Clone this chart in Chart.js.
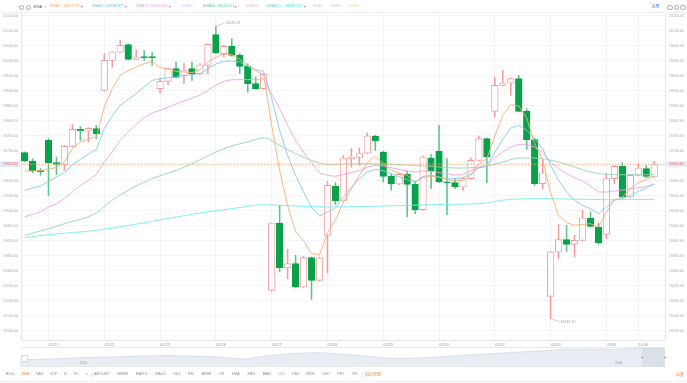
<!DOCTYPE html>
<html><head><meta charset="utf-8">
<script src="https://cdn.jsdelivr.net/npm/chart.js@4.4.1/dist/chart.umd.min.js"></script>
<style>
html,body{margin:0;padding:0;background:#fff;width:687px;height:383px;overflow:hidden;font-family:"Liberation Sans","Noto Sans CJK SC",Arial,sans-serif;}
#wrap{position:relative;width:687px;height:383px;}
canvas{position:absolute;left:0;}
#main{top:0;}
#nav{top:347px;}
.t{position:absolute;white-space:nowrap;line-height:1;transform:translateY(-50%);font-size:3.7px;}
.up{font-family:"DejaVu Sans",sans-serif;font-size:2.4px;color:#f04848;}
.ic{position:absolute;width:3.6px;height:3.6px;border:0.7px solid #a8a8a8;border-radius:50%;}
.bar{position:absolute;top:374.5px;transform:translateY(-50%);display:flex;font-size:3.5px;color:#8a8a8a;line-height:1;white-space:nowrap;}
.sep{position:absolute;width:0.6px;height:4px;background:#dcdcdc;top:372.5px;}
.hl{position:absolute;height:0.8px;background:#eceff3;}
</style></head>
<body><div id="wrap">
<canvas id="main" width="687" height="348"></canvas>
<canvas id="nav" width="687" height="20"></canvas>

<div class="hl" style="left:0;top:12px;width:687px;"></div>
<div class="ic" style="left:18.5px;top:4.7px"></div>
<div class="ic" style="left:25.5px;top:4.7px"></div>
<div class="t" style="left:33.5px;top:7px;color:#666;font-size:4px">EMA</div>
<div class="t" style="left:44.5px;top:7px;color:#aaa;font-size:3px;font-family:'DejaVu Sans'">▾</div>
<div class="t" style="left:50px;top:7px;color:#f7a865">EMA5:</div>
<div class="t" style="left:63px;top:7px;color:#f7a865">19617.735</div>
<div class="t up" style="left:81px;top:7px">▲</div>
<div class="t" style="left:92.5px;top:7px;color:#6ec0ee">EMA10:</div>
<div class="t" style="left:106.5px;top:7px;color:#6ec0ee">19598.871</div>
<div class="t up" style="left:125px;top:7px">▲</div>
<div class="t" style="left:136.5px;top:7px;color:#ee9ae6">EMA20:</div>
<div class="t" style="left:150.5px;top:7px;color:#ee9ae6">19590.565</div>
<div class="t up" style="left:169px;top:7px">▲</div>
<div class="t" style="left:181.5px;top:7px;color:#c8d3f3">EMA30:</div>
<div class="t" style="left:203px;top:7px;color:#64c98c">EMA60:</div>
<div class="t" style="left:217px;top:7px;color:#64c98c">19620.051</div>
<div class="t up" style="left:235px;top:7px">▲</div>
<div class="t" style="left:246.5px;top:7px;color:#f6bcbc">EMA90:</div>
<div class="t" style="left:266.5px;top:7px;color:#3fdede">EMA120:</div>
<div class="t" style="left:285px;top:7px;color:#3fdede">19535.355</div>
<div class="t up" style="left:304px;top:7px">▲</div>
<div class="t" style="left:313px;top:7px;color:#cfcfcf">EMA1</div>
<div class="t" style="left:331.5px;top:7px;color:#d6c6f4">EMA2</div>
<div class="t" style="left:349px;top:7px;color:#f4d8a2">EMA3</div>
<div class="t" style="left:651.5px;top:7px;color:#3d7ef0;font-size:4px">全屏</div>
<div class="ic" style="left:667px;top:4.7px"></div>
<div class="ic" style="left:673.5px;top:4.7px"></div>
<div class="ic" style="left:680px;top:4.7px"></div>

<div style="position:absolute;left:20px;top:347.3px;width:645px;height:19.4px;border-top:0.8px solid #e6e9ee;border-bottom:0.8px solid #e6e9ee;box-sizing:border-box;"></div>
<div style="position:absolute;left:642px;top:347.5px;width:23px;height:19px;background:rgba(190,200,212,0.35);"></div>
<div style="position:absolute;left:641px;top:356.8px;width:2px;height:0.8px;background:#8f98a3"></div>
<div style="position:absolute;left:664px;top:356.8px;width:2px;height:0.8px;background:#8f98a3"></div>
<div style="position:absolute;left:20.5px;top:355px;width:5.5px;height:4.5px;border:0.6px solid #d8dde4;background:#fff;"></div>
<div class="t" style="left:21.3px;top:357px;color:#8a8a8a;font-size:3px">···</div>
<div class="t" style="left:80px;top:364px;color:#999;font-size:3.3px">2025</div>
<div class="t" style="left:615px;top:364px;color:#999;font-size:3.3px">2026</div>

<div class="bar" style="left:6px;gap:6.7px"><span>BOLL</span><span style="color:#f08c4a">EMA</span><span>SAR</span><span>CDP</span><span>IC</span><span>KC</span><span>&gt;</span></div>
<div class="sep" style="left:90.5px"></div>
<div class="bar" style="left:94px;gap:7.75px"><span>AMOUNT</span><span>WMSR</span><span>MAVOL</span><span>MACD</span><span>KDJ</span><span>RSI</span><span>ARBR</span><span>CR</span><span>DMA</span><span>EMV</span><span>BIAS</span><span>CCI</span><span>DMI</span><span>MTM</span><span>OSC</span><span>PSY</span><span>VR</span></div>
<div class="sep" style="left:361.7px"></div>
<div class="t" style="left:365px;top:374.5px;color:#f08c4a;font-size:4px">指标管理</div>
<div class="t" style="left:676px;top:374.5px;color:#f08c4a;font-size:4px">设置</div>
<div class="hl" style="left:0;top:381px;width:687px;background:#f0f1f3"></div>
</div>

<script>
const candleOpen = [19693.4,19665.6,19633.4,19734.5,19660,19654.5,19714.5,19771.2,19765.6,19773.4,
19901.2,20001.2,20029,20053.4,20004.5,20013.4,20013.4,19906.7,19931.2,19973.4,
19951.2,19973.4,19956.7,19984.5,20086.7,20023.4,20047.9,20017.9,19981.2,19923.4,
19906.7,19234.5,19459,19310,19323.4,19245.6,19343.4,19267.9,19417.9,19582.3,
19532.3,19673.4,19677.9,19692.3,19749,19695.6,19614.5,19589,19621.2,19587.9,
19503.4,19675.6,19697.9,19595.6,19593.4,19579,19606.7,19667.9,19740,19831.2,
19917.9,19925.6,19940.1,19831.2,19736.7,19590.1,19214.5,19362.3,19403.4,19387.9,
19401.2,19475.6,19445.6,19421.2,19606.7,19647.9,19545.6,19617.9,19640.1,19612.3];
const candleHigh = [19696,19673.4,19640,19740,19679,19718,19787.9,19781,19776.8,19784.5,
20023.4,20031,20067.9,20055.6,20036.7,20033.4,20029,19942.3,19975.6,19995.6,
19990,19995.6,19990,20056.7,20115.01,20051.2,20073.4,20023.4,19990,19945.6,
19956.7,19459,19517.9,19371.2,19351.2,19347.9,19345.6,19345.6,19597.9,19593.4,
19684.5,19706.8,19709,19759,19751.2,19697.9,19623.4,19623.4,19631.2,19599,
19682.3,19686.7,19784.5,19673.4,19606.7,19609,19675.6,19749,19742.3,19945.6,
19967.9,19942.3,19951.2,19840.1,19742.3,19670.1,19364.5,19453.4,19451.2,19417.9,
19501.2,19495.6,19459,19623.4,19651.2,19660.1,19621.2,19656.7,19651.2,19664.5];
const candleLow = [19663,19626.8,19618,19551,19620,19634.5,19712,19734.5,19729,19740,
19899,19979,20026.8,20002.3,20003.4,20001.2,19984.5,19892.3,19920,19942.3,
19923.4,19934.5,19953.4,19956.7,20023.4,20012.3,20014.5,19956.7,19895.6,19904.5,
19904.5,19232,19295.6,19273.4,19242.3,19243.4,19204.5,19264.5,19293.4,19520.1,
19529,19645.6,19651.2,19690,19701.2,19595.6,19567.9,19586.8,19479,19490,
19501.2,19573.4,19593.4,19486.8,19573.4,19567.9,19604.5,19665.6,19593.4,19812.3,
19915.6,19884.5,19829,19704.5,19584.5,19573.4,19141.15,19340.1,19364.5,19345.6,
19399,19445.6,19387.9,19406.8,19590.1,19543.4,19543.4,19615.6,19610.1,19610.1];
const candleClose = [19665.6,19632.3,19629,19660,19654.5,19714.5,19771.2,19766.8,19774.5,19756.8,
20001.2,20029,20051.2,20004.5,20012.3,20009,20009,19931.2,19973.4,19944.5,
19969,19955.6,19985.6,20054.5,20026.8,20047.9,20017.9,19981.2,19923.4,19906.7,
19954.5,19459,19310,19323.4,19245.6,19343.4,19267.9,19342.3,19584.5,19532.3,
19675.6,19679,19692.3,19749,19732.3,19614.5,19589,19621.2,19587.9,19503.4,
19679,19632.3,19595.6,19592.3,19579,19606.7,19667.9,19740,19679,19917.9,
19925.6,19940.1,19831.2,19736.7,19590.1,19625.6,19362.3,19403.4,19387.9,19401.2,
19475.6,19447.9,19392.3,19606.7,19647.9,19545.6,19617.9,19642.3,19614.5,19654.82];

const ema5 = [19632.3,19632.3,19633.4,19637.9,19644.5,19662.3,19706.7,19729.0,19740.1,19745.6,
19845.6,19906.7,19951.2,19966.7,19979.0,19990.1,19997.9,19976.7,19973.4,19964.5,
19962.3,19960.1,19969.0,19995.6,20011.2,20022.3,20020.1,20004.5,19984.5,19966.7,
19953.4,19784.5,19634.5,19517.9,19431.2,19400.1,19357.9,19352.3,19426.7,19467.9,
19529.0,19573.4,19617.9,19660.1,19682.3,19656.7,19634.5,19625.6,19617.9,19595.6,
19610.1,19615.6,19611.2,19604.5,19599.0,19601.2,19617.9,19656.7,19673.4,19749.0,
19817.9,19853.4,19849.0,19809.0,19723.4,19670.1,19560.0,19484.5,19460.1,19451.2,
19454.5,19456.7,19445.6,19495.6,19534.5,19545.6,19573.4,19593.4,19604.5,19615.6];
const ema10 = [19567.9,19575.6,19582.3,19597.9,19612.3,19626.7,19653.4,19671.2,19687.9,19704.5,
19773.4,19815.6,19851.2,19871.2,19890.1,19912.3,19934.5,19940.1,19943.4,19945.6,
19950.1,19953.4,19956.7,19973.4,19989.0,19997.9,19999.0,19995.6,19981.2,19970.1,
19964.5,19875.6,19767.9,19684.5,19617.9,19562.3,19512.3,19482.3,19495.6,19509.0,
19545.6,19579.0,19606.7,19629.0,19637.9,19633.4,19623.4,19612.3,19603.4,19595.6,
19614.5,19617.9,19612.3,19606.7,19606.7,19610.1,19623.4,19642.3,19647.9,19695.6,
19737.9,19775.6,19784.5,19767.9,19740.1,19706.7,19651.2,19601.2,19562.3,19534.5,
19517.9,19506.7,19490.1,19512.3,19537.9,19540.1,19551.2,19564.5,19575.6,19590.1];
const ema20 = [19479.0,19487.9,19495.6,19512.3,19523.4,19540.1,19562.3,19584.5,19601.2,19621.2,
19662.3,19695.6,19734.5,19762.3,19787.9,19810.1,19825.6,19834.5,19845.6,19855.6,
19865.6,19875.6,19884.5,19901.2,19917.9,19931.2,19936.7,19936.7,19936.7,19937.9,
19937.9,19890.1,19840.1,19784.5,19734.5,19695.6,19660.1,19625.6,19617.9,19614.5,
19620.1,19626.7,19634.5,19644.5,19651.2,19649.0,19643.4,19637.9,19632.3,19629.0,
19632.3,19631.2,19626.7,19623.4,19619.0,19621.2,19634.5,19643.4,19651.2,19676.7,
19695.6,19712.3,19721.2,19721.2,19712.3,19693.4,19662.3,19640.1,19623.4,19610.1,
19597.9,19582.3,19562.3,19562.3,19565.6,19569.0,19573.4,19576.7,19581.2,19587.9];
const ema60Idx = [0,3,5,9,11,13,16,19,21,24,26,28,30,32,34,36,38,43,47,51,53,55,58,60,62,64,67,69,71,73,76,79];
const ema60Val = [19417.9,19440.1,19456.7,19492.3,19535,19567.9,19606.7,19634.5,19656.7,19695.6,19716,19729,19742.3,19718,19690,19668,19654.5,19656.7,19653.4,19647.9,19643.4,19642.3,19649,19662.3,19675.6,19675.6,19662.3,19645.6,19629,19621.2,19620.1,19620.1];
const ema120Idx = [0,3,9,16,22,26,30,32,38,45,51,53,57,61,65,70,74,79];
const ema120Val = [19410.1,19420.1,19434.5,19464.5,19492.3,19506.7,19520.1,19517.9,19512.3,19515.6,19520.1,19521.2,19523.4,19537.9,19540.1,19537.9,19536.7,19537.9];

const xTickIdx = [3,10,17,24,31,38,45,52,59,66,73,77];
const xTickLabels = ['01/21','01/22','01/23','01/26','01/27','01/28','01/29','01/30','02/02','02/03','02/04','14:30'];
const yTickValues = [20150,20100,20050,20000,19950,19900,19850,19800,19750,19700,19650,19600,19550,19500,19450,19400,19350,19300,19250,19200,19150,19100];
const lastPrice = 19654.82;
const overviewValues = [18005,18125,18275,18395,18500,18620,18650,18575,18455,18155,18650,18950,19100,18875,18575,18200,18305,18470,18755,18950,19175,19370,19625,19625,19625,19730,19760];

const FONT = '"Liberation Sans", Arial, sans-serif';
Chart.defaults.font.family = FONT;
const isUp = i => candleClose[i] >= candleOpen[i];
const UPC = '#f29c9c', DNC = '#08a24b', DNW = '#5cc486';

const marks = {
  id: 'marks',
  afterDatasetsDraw(chart) {
    const {ctx, chartArea: a, scales: {x, y}} = chart;
    ctx.save();
    const py = y.getPixelForValue(lastPrice);
    ctx.strokeStyle = '#f6a86c'; ctx.lineWidth = 0.9; ctx.setLineDash([1.5, 1.5]);
    ctx.beginPath(); ctx.moveTo(a.left, py); ctx.lineTo(a.right, py); ctx.stroke();
    ctx.setLineDash([]);
    ctx.fillStyle = '#e2ebfa';
    ctx.fillRect(0, py - 2.8, a.left - 1, 5.6);
    ctx.fillRect(a.right + 1.5, py - 2.8, chart.width - a.right - 1.5, 5.6);
    ctx.fillStyle = '#ef6262'; ctx.font = '3.6px ' + FONT; ctx.textBaseline = 'middle';
    ctx.textAlign = 'right'; ctx.fillText(lastPrice.toFixed(2), a.left - 3, py);
    ctx.textAlign = 'left'; ctx.fillText(lastPrice.toFixed(2), a.right + 4, py);
    // high / low annotations
    let hi = 0, lo = 0;
    candleHigh.forEach((v, i) => { if (v > candleHigh[hi]) hi = i; });
    candleLow.forEach((v, i) => { if (v < candleLow[lo]) lo = i; });
    ctx.strokeStyle = '#b5b5b5'; ctx.lineWidth = 0.6; ctx.fillStyle = '#9a9a9a';
    const hx = x.getPixelForValue(hi), hy = y.getPixelForValue(candleHigh[hi]);
    ctx.beginPath(); ctx.moveTo(hx, hy); ctx.lineTo(hx + 9, hy - 3.4); ctx.stroke();
    ctx.fillText(candleHigh[hi].toFixed(2), hx + 10, hy - 3.4);
    const lx = x.getPixelForValue(lo), ly = y.getPixelForValue(candleLow[lo]);
    ctx.beginPath(); ctx.moveTo(lx, ly); ctx.lineTo(lx + 9, ly + 3.4); ctx.stroke();
    ctx.fillText(candleLow[lo].toFixed(2), lx + 10, ly + 3.6);
    ctx.restore();
  }
};

const lineDs = (label, data, color, extra) => Object.assign({
  type: 'line', label, data, borderColor: color, borderWidth: 0.9, pointRadius: 0,
  tension: 0, order: 0, yAxisID: 'y'
}, extra || {});

const yAxisBase = {
  type: 'linear', min: 19069, max: 20159,
  afterBuildTicks: s => { s.ticks = yTickValues.map(v => ({value: v})); },
  ticks: {
    color: '#a9a9a9', font: {size: 3.6},
    callback: v => Math.abs(v - lastPrice) < 25 ? '' : Number(v).toFixed(2)
  }
};

new Chart(document.getElementById('main'), {
  type: 'bar',
  data: {
    datasets: [
      lineDs('EMA5', ema5.map((v, i) => ({x: i, y: v})), '#f8ad72'),
      lineDs('EMA10', ema10.map((v, i) => ({x: i, y: v})), '#83c9f0'),
      lineDs('EMA20', ema20.map((v, i) => ({x: i, y: v})), '#f1a2ea'),
      lineDs('EMA60', ema60Idx.map((v, i) => ({x: v, y: ema60Val[i]})), '#93d7ad', {cubicInterpolationMode: 'monotone'}),
      lineDs('EMA120', ema120Idx.map((v, i) => ({x: v, y: ema120Val[i]})), '#74eeee', {cubicInterpolationMode: 'monotone'}),
      {
        type: 'bar', label: 'body', yAxisID: 'y', order: 5, grouped: false,
        data: candleOpen.map((o, i) => ({x: i, y: [o, candleClose[i]]})),
        backgroundColor: c => isUp(c.dataIndex) ? '#ffffff' : DNC,
        borderColor: c => isUp(c.dataIndex) ? UPC : DNC,
        borderWidth: 0.9, borderSkipped: false, barThickness: 6.6, minBarLength: 1.2
      },
      {
        type: 'bar', label: 'wick', yAxisID: 'y', order: 6, grouped: false,
        data: candleLow.map((l, i) => ({x: i, y: [l, candleHigh[i]]})),
        backgroundColor: c => isUp(c.dataIndex) ? UPC : DNW,
        borderWidth: 0, barThickness: 0.9
      }
    ]
  },
  options: {
    responsive: false, animation: false, events: [],
    layout: {padding: {top: 13, left: 0, right: 0, bottom: 0}},
    plugins: {legend: {display: false}, tooltip: {enabled: false}},
    scales: {
      x: {
        type: 'linear', min: -0.45, max: 80.35, offset: false,
        grid: {color: '#edf0f4', lineWidth: 0.8, drawTicks: false, offset: false},
        border: {display: true, color: '#e4e7eb'},
        afterBuildTicks: s => { s.ticks = xTickIdx.map(v => ({value: v})); },
        afterFit: s => { s.height = 8; },
        ticks: {autoSkip: false, maxRotation: 0, align: 'start', padding: 2, color: '#9a9a9a',
          font: {size: 4}, callback: (v, i) => xTickLabels[i]}
      },
      y: Object.assign({}, yAxisBase, {
        position: 'left',
        grid: {color: '#f2f3f6', lineWidth: 0.8, drawTicks: false},
        border: {display: true, color: '#e4e7eb'},
        afterFit: s => { s.width = 21; },
        ticks: Object.assign({}, yAxisBase.ticks, {padding: 3})
      }),
      y2: Object.assign({}, yAxisBase, {
        position: 'right',
        grid: {display: false, drawTicks: false},
        border: {display: true, color: '#e4e7eb'},
        afterFit: s => { s.width = 22; },
        ticks: Object.assign({}, yAxisBase.ticks, {padding: 4})
      })
    }
  },
  plugins: [marks]
});

new Chart(document.getElementById('nav'), {
  type: 'line',
  data: {datasets: [{
    data: overviewValues.map((v, i) => ({x: i, y: v})),
    fill: 'start', backgroundColor: '#e8edf3', borderColor: '#d3dbe5', borderWidth: 0.8,
    pointRadius: 0, tension: 0.2
  }]},
  options: {
    responsive: false, animation: false, events: [],
    layout: {padding: {left: 20, right: 22, top: 0, bottom: 0}},
    plugins: {legend: {display: false}, tooltip: {enabled: false}},
    scales: {
      x: {type: 'linear', display: false, min: 0, max: overviewValues.length - 1},
      y: {display: false, min: 16950, max: 19950}
    }
  }
});
</script>
</body></html>
